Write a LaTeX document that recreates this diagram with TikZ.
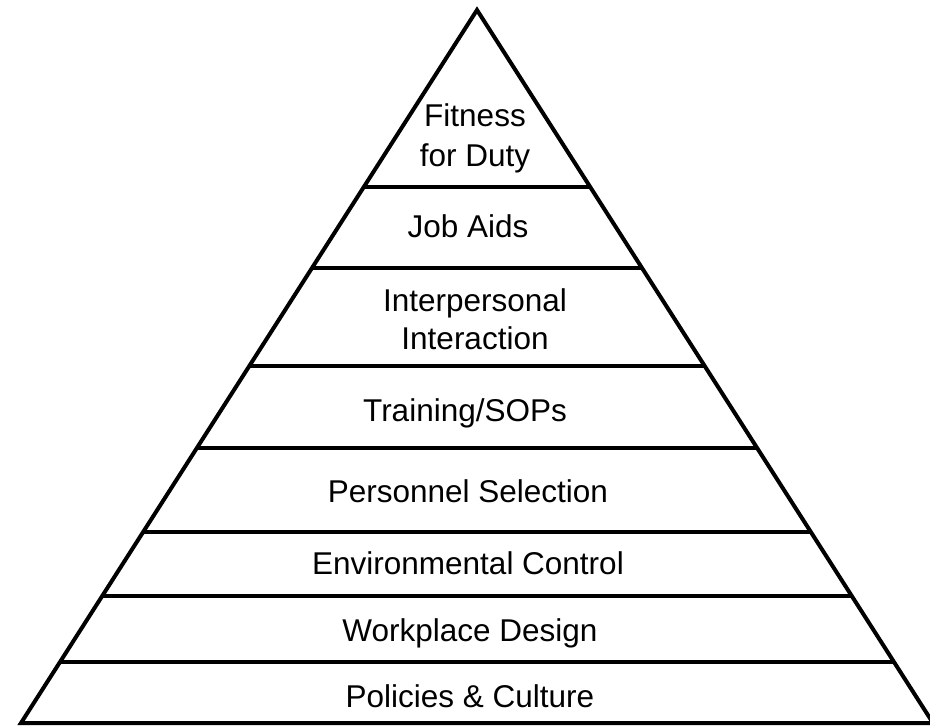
\documentclass[tikz,border=0pt]{standalone}
\usepackage{fontspec}
\setmainfont{Liberation Sans}
\usetikzlibrary{calc}
\begin{document}
\begin{tikzpicture}[x=1pt,y=-1pt,line width=4pt,
  lbl/.style={anchor=base,inner sep=0pt,font=\fontsize{31.5}{40}\selectfont}]
\useasboundingbox (0,0) rectangle (930,727);
\clip (0,0) rectangle (930,727);
\coordinate (A) at (477,10);
\coordinate (L) at (21,723);
\coordinate (R) at (933,723);
\draw (A) -- (L) -- (R) -- cycle;
\foreach \y in {187,268,366,448,532,596,662} {
  \pgfmathsetmacro\t{(\y-10)/713}
  \draw ($(A)!\t!(L)$) -- ($(A)!\t!(R)$);
}
\node[lbl] (f1) at (475,127) {Fitness};
\node[lbl] (f2) at (475,167) {for Duty};
\node[lbl] (job) at (468,238) {Job Aids};
\node[lbl] (ip1) at (475,312) {Interpersonal};
\node[lbl] (ip2) at (475,350) {Interaction};
\node[lbl] (tr) at (465,422) {Training/SOPs};
\node[lbl] (ps) at (468,502) {Personnel Selection};
\node[lbl] (ec) at (468,574) {Environmental Control};
\node[lbl] (wd) at (470,641) {Workplace Design};
\node[lbl] (pc) at (470,707) {Policies \& Culture};
\end{tikzpicture}
\end{document}
